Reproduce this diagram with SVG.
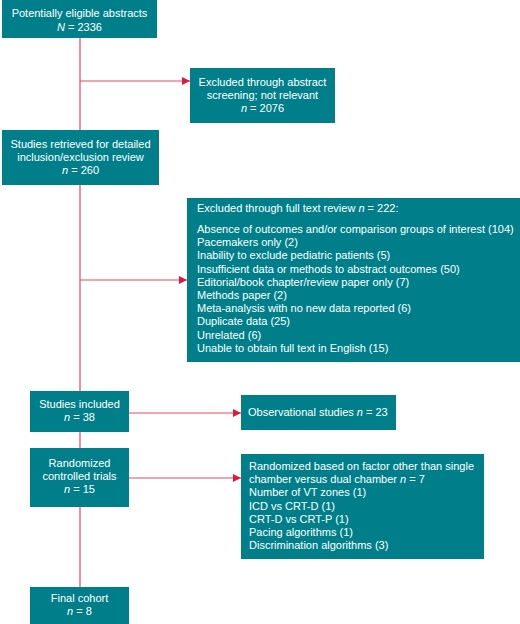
<svg xmlns="http://www.w3.org/2000/svg" width="520" height="624" viewBox="0 0 520 624">
<defs>
<style>
.box{fill:#007f8b}
.t{font-family:"Liberation Sans",Arial,sans-serif;font-size:11px;fill:#ffffff}
.c{text-anchor:middle}
.ln{stroke:#e04a62;stroke-width:1.2;fill:none}
</style>
<marker id="ah" viewBox="0 0 8 8" refX="8" refY="4" markerWidth="8" markerHeight="8" markerUnits="userSpaceOnUse" orient="auto">
<path d="M0,0 L8,4 L0,8 Z" fill="#e0193c"/>
</marker>
</defs>
<rect width="520" height="624" fill="#ffffff"/>
<g id="connectors">
<line class="ln" x1="80" y1="38" x2="80" y2="587"/>
<line class="ln" x1="80" y1="81" x2="190" y2="81" marker-end="url(#ah)"/>
<line class="ln" x1="80" y1="280" x2="187" y2="280" marker-end="url(#ah)"/>
<line class="ln" x1="129" y1="413" x2="241" y2="413" marker-end="url(#ah)"/>
<line class="ln" x1="129" y1="478" x2="241" y2="478" marker-end="url(#ah)"/>
</g>
<g id="n1">
<rect class="box" x="2" y="0" width="155" height="38"/>
<text class="t c" x="79.5" y="17">Potentially eligible abstracts</text>
<text class="t c" x="79.5" y="31"><tspan font-style="italic">N</tspan> = 2336</text>
</g>
<g id="n2">
<rect class="box" x="190" y="68" width="145" height="55"/>
<text class="t c" x="262.5" y="86">Excluded through abstract</text>
<text class="t c" x="262.5" y="99">screening; not relevant</text>
<text class="t c" x="262.5" y="112"><tspan font-style="italic">n</tspan> = 2076</text>
</g>
<g id="n3">
<rect class="box" x="2" y="130" width="157" height="55"/>
<text class="t c" x="80.5" y="148">Studies retrieved for detailed</text>
<text class="t c" x="80.5" y="161">inclusion/exclusion review</text>
<text class="t c" x="80.5" y="174"><tspan font-style="italic">n</tspan> = 260</text>
</g>
<g id="n4">
<rect class="box" x="187" y="198" width="333" height="164"/>
<text class="t" x="197" y="212">Excluded through full text review <tspan font-style="italic">n</tspan> = 222:</text>
<text class="t" x="197" y="233">Absence of outcomes and/or comparison groups of interest (104)</text>
<text class="t" x="197" y="246.2">Pacemakers only (2)</text>
<text class="t" x="197" y="259.4">Inability to exclude pediatric patients (5)</text>
<text class="t" x="197" y="272.6">Insufficient data or methods to abstract outcomes (50)</text>
<text class="t" x="197" y="285.8">Editorial/book chapter/review paper only (7)</text>
<text class="t" x="197" y="299">Methods paper (2)</text>
<text class="t" x="197" y="312.2">Meta-analysis with no new data reported (6)</text>
<text class="t" x="197" y="325.4">Duplicate data (25)</text>
<text class="t" x="197" y="338.6">Unrelated (6)</text>
<text class="t" x="197" y="351.8">Unable to obtain full text in English (15)</text>
</g>
<g id="n5">
<rect class="box" x="30" y="391" width="99" height="41"/>
<text class="t c" x="79.5" y="408">Studies included</text>
<text class="t c" x="79.5" y="421"><tspan font-style="italic">n</tspan> = 38</text>
</g>
<g id="n6">
<rect class="box" x="241" y="395" width="155" height="35"/>
<text class="t" x="248" y="416">Observational studies <tspan font-style="italic">n</tspan> = 23</text>
</g>
<g id="n7">
<rect class="box" x="30" y="448" width="99" height="59"/>
<text class="t c" x="79.5" y="467">Randomized</text>
<text class="t c" x="79.5" y="480">controlled trials</text>
<text class="t c" x="79.5" y="493"><tspan font-style="italic">n</tspan> = 15</text>
</g>
<g id="n8">
<rect class="box" x="241" y="454" width="243" height="105"/>
<text class="t" x="249" y="470">Randomized based on factor other than single</text>
<text class="t" x="249" y="483.2">chamber versus dual chamber <tspan font-style="italic">n</tspan> = 7</text>
<text class="t" x="249" y="496.4">Number of VT zones (1)</text>
<text class="t" x="249" y="509.6">ICD vs CRT-D (1)</text>
<text class="t" x="249" y="522.8">CRT-D vs CRT-P (1)</text>
<text class="t" x="249" y="536">Pacing algorithms (1)</text>
<text class="t" x="249" y="549.2">Discrimination algorithms (3)</text>
</g>
<g id="n9">
<rect class="box" x="30" y="587" width="99" height="37"/>
<text class="t c" x="79.5" y="602">Final cohort</text>
<text class="t c" x="79.5" y="615"><tspan font-style="italic">n</tspan> = 8</text>
</g>
</svg>
